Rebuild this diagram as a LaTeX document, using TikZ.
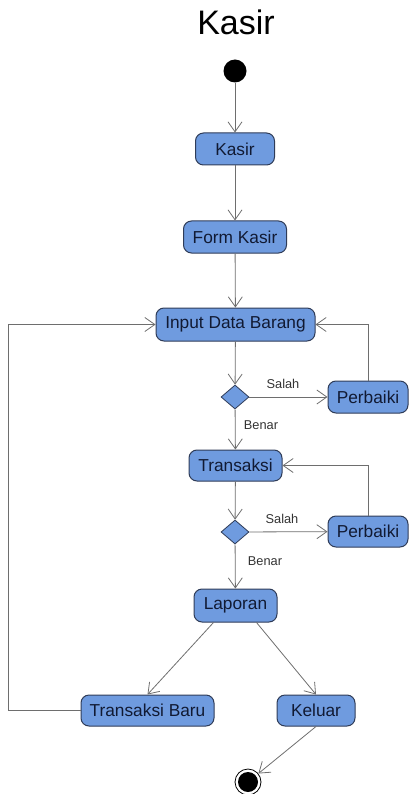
\documentclass[tikz,border=0pt]{standalone}
\usepackage{fontspec}
\setmainfont{Liberation Sans}
\usetikzlibrary{arrows.meta,shapes.geometric}
\definecolor{actfill}{HTML}{6F9BDF}
\definecolor{actdraw}{HTML}{2F3C58}
\definecolor{acttext}{HTML}{111A33}
\definecolor{linec}{HTML}{6E6E6E}
\begin{document}
\begin{tikzpicture}[x=1pt,y=-1pt,
  act/.style={draw=actdraw,line width=1pt,fill=actfill,rounded corners=8pt,
    minimum height=32pt,inner xsep=0pt,text=acttext,font=\fontsize{17.3}{19}\selectfont},
  dec/.style={diamond,draw=actdraw,line width=0.8pt,fill=actfill,minimum width=28pt,minimum height=24pt,inner sep=0pt,aspect=1.17},
  flow/.style={draw=linec,line width=0.8pt,-{Straight Barb[length=10pt,width=14pt,line width=0.8pt]}},
  lab/.style={text=black!80,font=\fontsize{12.8}{14}\selectfont}]
\useasboundingbox (0,0) rectangle (409,794);
\node[font=\fontsize{34}{36}\selectfont] (title) at (236,22) {Kasir};
\node[circle,fill=black,minimum size=23pt,inner sep=0pt] (start) at (235,71) {};
\node[act,minimum width=79pt] (kasir) at (235,149) {Kasir};
\node[act,minimum width=103pt] (form) at (235,237) {Form Kasir};
\node[act,minimum width=159pt,minimum height=33pt] (input) at (235.5,324.5) {Input Data Barang};
\node[dec] (d1) at (235,397) {};
\node[act,minimum width=80pt] (p1) at (368,397) {Perbaiki};
\node[act,minimum width=93pt,minimum height=31pt] (trans) at (235.5,465.5) {Transaksi};
\node[dec] (d2) at (235,532) {};
\node[act,minimum width=80pt,minimum height=31pt] (p2) at (368,531.5) {Perbaiki};
\node[act,minimum width=83pt,minimum height=33pt] (lap) at (235.5,605.5) {Laporan};
\node[act,minimum width=133pt,minimum height=31pt] (tb) at (147.5,710.5) {Transaksi Baru};
\node[act,minimum width=78pt,minimum height=31pt] (kel) at (316,710.5) {Keluar};
\node[circle,draw=black,line width=0.8pt,fill=white,minimum size=26pt,inner sep=0pt] (end) at (248,782) {};
\node[circle,fill=black,minimum size=20pt,inner sep=0pt] at (end) {};
\node[lab] (s1) at (283,384) {Salah};
\node[lab] (b1) at (261,425) {Benar};
\node[lab] (s2) at (282,519) {Salah};
\node[lab] (b2) at (265,561) {Benar};
\coordinate (lpA) at (8,710.5);
\coordinate (lpB) at (8,324.5);
\draw[flow] (start) -- (kasir);
\draw[flow] (kasir) -- (form);
\draw[flow] (form) -- (input);
\draw[flow] (input) -- (d1);
\draw[flow] (d1) -- (p1);
\draw[flow] (d1) -- (trans);
\draw[flow] (p1.north) |- (input.east);
\draw[flow] (trans) -- (d2);
\draw[flow] (d2) -- (p2);
\draw[flow] (d2) -- (lap);
\draw[flow] (p2.north) |- (trans.east);
\draw[flow] (lap.south west) ++(20,0) coordinate (lapL) (lapL) -- (tb.north);
\draw[flow] (lap.south east) ++(-21,0) coordinate (lapR) (lapR) -- (kel.north);
\draw[flow] (kel.south) -- (end);
\draw[flow] (tb.west) -- (lpA) -- (lpB) -- (input.west);
\end{tikzpicture}
\end{document}
